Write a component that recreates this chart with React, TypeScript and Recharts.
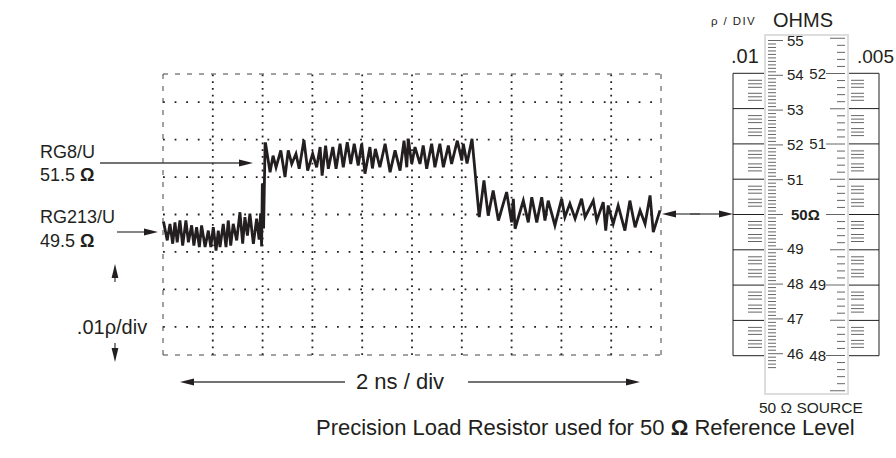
import React from "react";
import { LineChart, Line, XAxis, YAxis, ReferenceLine } from "recharts";

// TDR trace: time in ns (2 ns/div), reflection coefficient in milli-rho (.01 rho/div = 10)
const traceNs = [
  0.02, 0.17, 0.28, 0.39, 0.48, 0.57, 0.68, 0.79, 0.92, 1.02, 1.15, 1.24, 1.35, 1.46, 1.55, 1.69,
  1.82, 1.92, 2.02, 2.13, 2.22, 2.29, 2.42, 2.53, 2.62, 2.72, 2.82, 2.96, 3.09, 3.2, 3.29, 3.39,
  3.49, 3.63, 3.76, 3.86, 3.92, 3.96, 3.99, 4.04, 4.1,
  4.12, 4.3, 4.42, 4.54, 4.73, 4.9, 5.03, 5.17, 5.34, 5.47, 5.66, 5.81, 6.01, 6.17, 6.31, 6.39,
  6.53, 6.64, 6.82, 6.95, 7.11, 7.24, 7.4, 7.54, 7.68, 7.84, 7.98, 8.11, 8.31, 8.41, 8.53, 8.71,
  8.92, 9.12, 9.32, 9.52, 9.68, 9.79, 9.85, 9.99, 10.12, 10.32, 10.45, 10.59, 10.79, 10.92, 11.12,
  11.26, 11.46, 11.59, 11.82, 12.0, 12.06, 12.21, 12.41,
  12.7, 12.89, 13.06, 13.26, 13.47, 13.8, 14.0, 14.07, 14.14, 14.47, 14.67, 14.81, 15.01, 15.21,
  15.34, 15.47, 15.74, 16.01, 16.14, 16.34, 16.55, 16.81, 16.95, 17.28, 17.42, 17.68, 17.78, 17.88,
  18.08, 18.28, 18.55, 18.75, 18.96, 19.16, 19.36, 19.56, 19.69, 19.96,
];
const traceRho = [
  -1.9, -6.9, -2.5, -7.8, -2.1, -7.4, -1.6, -8.3, -1.6, -7.4, -2.9, -8.3, -3.4, -8.7, -2.9, -8.7,
  -4.3, -8.7, -3.4, -9.6, -4.3, -8.7, -2.5, -8.7, -1.6, -8.3, -2.5, -6.9, 0.6, -7.8, -0.7, -5.6,
  0.2, -7.8, -1.1, -6.7, 0.3, -8.5, 8.3, -3.7, 18.9,
  18.9, 11.3, 15.7, 12.6, 17.1, 10.0, 17.1, 13.5, 16.2, 12.2, 19.9, 11.7, 16.2, 12.6, 18.0, 10.4,
  18.4, 12.2, 18.0, 12.2, 18.9, 12.6, 19.3, 13.5, 18.9, 13.1, 18.9, 10.9, 18.0, 12.3, 17.5, 12.6,
  18.9, 11.3, 17.1, 11.7, 19.7, 12.6, 20.2, 13.5, 18.0, 13.5, 18.4, 12.2, 18.9, 12.6, 18.9,
  12.6, 18.4, 13.5, 19.7, 14.4, 18.9, 13.6, 20.2,
  -0.7, 9.1, -0.3, 6.4, -1.6, 6.0, -2.1, 4.2, -3.8, 3.7, -2.1, 4.6, -2.1, 4.6,
  -1.6, 3.7, -2.9, 4.2, -0.7, 2.9, -1.1, 4.2, -0.7, 3.7, -1.6, 3.3, -4.3, 2.4,
  -2.5, 2.4, -4.3, 3.7, -3.4, 1.1, -2.5, 5.1, -4.7, 1.1,
];

const xGridNs = [2, 4, 6, 8, 10, 12, 14, 16, 18];
const yGridRho = [-30, -20, -10, 0, 10, 20, 30];
const xEdgeNs = [0, 20];
const yEdgeRho = [-37.5, 37.5];

// slide rule on the right
const ohmLabels01 = [55, 54, 53, 52, 51, 50, 49, 48, 47, 46];
const ohmLabels005 = [52, 51, 50, 49, 48];
const ruleDivisions = [-4, -3, -2, -1, 0, 1, 2, 3, 4];

const INK = "#231f20";
const FONT = "'Liberation Sans', Arial, Helvetica, sans-serif";

const data = traceNs.map((ns, i) => ({ ns, rho: traceRho[i] }));

function Arrow({ x1, y1, x2, y2 }: { x1: number; y1: number; x2: number; y2: number }) {
  const a = Math.atan2(y2 - y1, x2 - x1);
  const L = 14;
  const W = 3.4;
  const bx = x2 - L * Math.cos(a);
  const by = y2 - L * Math.sin(a);
  const px = -Math.sin(a) * W;
  const py = Math.cos(a) * W;
  return (
    <g>
      <line x1={x1} y1={y1} x2={bx + 2 * Math.cos(a)} y2={by + 2 * Math.sin(a)} stroke="#444" strokeWidth={1.3} />
      <polygon points={`${x2},${y2} ${bx + px},${by + py} ${bx - px},${by - py}`} fill={INK} />
    </g>
  );
}

function SlideRule() {
  const boxL = 733;
  const boxR = 879;
  const slL = 765;
  const slR = 848;
  const slTop = 35;
  const slBot = 394;
  const mid = 214.5;
  const div = 35.3;
  const yL = (v: number) => mid - (v - 50) * 34.8;
  const yR = (v: number) => mid - (v - 50) * 70.5;

  const minorL: number[] = [];
  for (let k = 456; k <= 554; k++) minorL.push(k / 10);
  const minorR: number[] = [];
  for (let k = 474; k <= 525; k++) minorR.push(k / 10);

  const hatch: number[] = [];
  ruleDivisions.slice(0, -1).forEach((d) => {
    [7, 10.5, 14, 20, 23.5, 27].forEach((o) => hatch.push(mid + d * div + o));
  });

  return (
    <g fontFamily={FONT} fill={INK}>
      <line x1={boxL} y1={mid - 4 * div} x2={boxL} y2={mid + 4 * div} stroke={INK} strokeWidth={1} />
      <line x1={boxR} y1={mid - 4 * div} x2={boxR} y2={mid + 4 * div} stroke={INK} strokeWidth={1} />
      {ruleDivisions.map((d) => (
        <g key={"d" + d}>
          <line x1={boxL} y1={mid + d * div} x2={slL} y2={mid + d * div} stroke={INK} strokeWidth={1} />
          <line x1={slR} y1={mid + d * div} x2={boxR} y2={mid + d * div} stroke={INK} strokeWidth={1} />
        </g>
      ))}
      {hatch.map((y, i) => (
        <g key={"h" + i}>
          <line x1={748} y1={y} x2={762} y2={y} stroke="#666" strokeWidth={1} />
          <line x1={851} y1={y} x2={864} y2={y} stroke="#666" strokeWidth={1} />
        </g>
      ))}
      <rect x={slL} y={slTop} width={slR - slL} height={slBot - slTop} fill="#fff" stroke="#ddd" strokeWidth={2} />
      {minorL.map((v) => {
        const y = yL(v);
        if (y < slTop + 3 || y > slBot - 3) return null;
        const major = Math.abs(v - Math.round(v)) < 0.01;
        return <line key={"ml" + v} x1={768} y1={y} x2={major ? 783 : 776} y2={y} stroke="#555" strokeWidth={0.9} />;
      })}
      {minorR.map((v) => {
        const y = yR(v);
        if (y < slTop + 3 || y > slBot - 3) return null;
        const major = Math.abs(v - Math.round(v)) < 0.01;
        const half = Math.abs(v * 2 - Math.round(v * 2)) < 0.01;
        return <line key={"mr" + v} x1={major ? 826 : half ? 830 : 837} y1={y} x2={845} y2={y} stroke="#555" strokeWidth={0.9} />;
      })}
      {ohmLabels01.map((v) => (
        <text key={"l" + v} x={v === 50 ? 791 : 787} y={yL(v) + 5} fontSize={15} fontWeight={v === 50 ? "bold" : "normal"}>
          {v === 50 ? "50Ω" : v}
        </text>
      ))}
      {ohmLabels005.filter((v) => v !== 50).map((v) => (
        <text key={"r" + v} x={826} y={yR(v) + 5} fontSize={15} textAnchor="end">
          {v}
        </text>
      ))}
      <text x={711} y={25} fontSize={11.5} letterSpacing={1.4}>ρ / DIV</text>
      <text x={773} y={27} fontSize={20}>OHMS</text>
      <text x={731} y={63} fontSize={20}>.01</text>
      <text x={857} y={63} fontSize={19}>.005</text>
      <text x={759} y={413} fontSize={15.5}>50 Ω SOURCE</text>
    </g>
  );
}

export default function App() {
  return (
    <div style={{ position: "absolute", left: 0, top: 0, width: 896, height: 458, background: "#fff" }}>
      <LineChart width={896} height={458} data={data} margin={{ top: 74, right: 235, bottom: 103, left: 163 }}>
        <XAxis type="number" dataKey="ns" domain={[0, 20]} hide />
        <YAxis type="number" domain={[-37.5, 37.5]} hide />
        {yGridRho.map((v) => (
          <ReferenceLine key={"gy" + v} y={v} stroke={INK} strokeWidth={1.8} strokeDasharray="1.8 9.8" />
        ))}
        {xGridNs.map((v) => (
          <ReferenceLine key={"gx" + v} x={v} stroke={INK} strokeWidth={1.8} strokeDasharray="1.8 5" />
        ))}
        {yEdgeRho.map((v) => (
          <ReferenceLine key={"ey" + v} y={v} stroke="#444" strokeWidth={1} strokeDasharray="5 7" />
        ))}
        {xEdgeNs.map((v) => (
          <ReferenceLine key={"ex" + v} x={v} stroke="#444" strokeWidth={1} strokeDasharray="5 7" />
        ))}
        <Line
          type="linear"
          dataKey="rho"
          stroke={INK}
          strokeWidth={2.8}
          dot={false}
          isAnimationActive={false}
        />
      </LineChart>
      <svg width={896} height={458} style={{ position: "absolute", left: 0, top: 0, pointerEvents: "none" }}>
        <g fontFamily={FONT} fill={INK} fontSize={18}>
          <text x={40} y={158}>RG8/U</text>
          <text x={40} y={181}>51.5 <tspan fontWeight="bold">Ω</tspan></text>
          <text x={40} y={223}>RG213/U</text>
          <text x={40} y={247}>49.5 <tspan fontWeight="bold">Ω</tspan></text>
          <text x={112} y={334} fontSize={20} textAnchor="middle">.01ρ/div</text>
          <text x={356} y={389} fontSize={22}>2 ns / div</text>
          <text x={316} y={435} fontSize={22}>
            Precision Load Resistor used for 50 <tspan fontWeight="bold">Ω</tspan> Reference Level
          </text>
        </g>
        <Arrow x1={100} y1={163} x2={253} y2={163} />
        <Arrow x1={117} y1={232} x2={158} y2={232} />
        <Arrow x1={115} y1={282} x2={115} y2={264} />
        <Arrow x1={115} y1={343} x2={115} y2={362} />
        <Arrow x1={345} y1={382} x2={180} y2={382} />
        <Arrow x1={468} y1={382} x2={640} y2={382} />
        <Arrow x1={700} y1={214} x2={662} y2={214} />
        <Arrow x1={690} y1={214} x2={733} y2={214} />
        <SlideRule />
      </svg>
    </div>
  );
}
